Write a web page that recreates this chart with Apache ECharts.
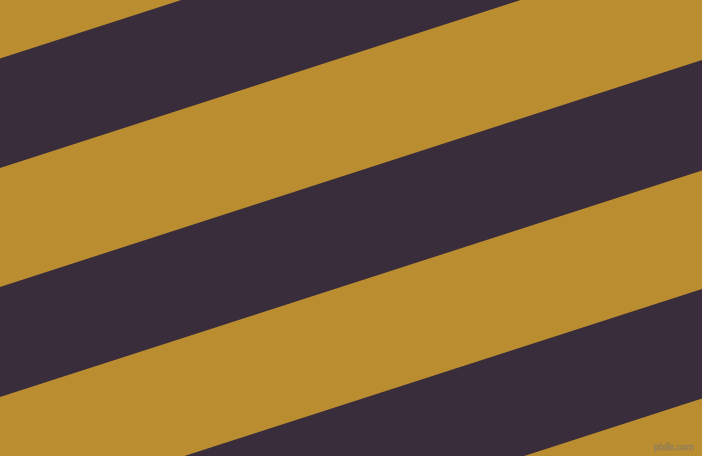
<!DOCTYPE html>
<html>
<head>
<meta charset="utf-8">
<style>
  html, body { margin: 0; padding: 0; background: #bb8d31; }
  #stripes { width: 702px; height: 456px; }
</style>
<script src="https://cdn.jsdelivr.net/npm/echarts@6/dist/echarts.min.js"></script>
</head>
<body>
<div id="stripes"></div>
<script>
// stripe edges where they meet the left (x=0) and right (x=702) borders, in pixels from the top
var leftTop = [58.5, 287, 515.5];
var leftBottom = [168, 397, 625.5];
var rightTop = [-168, 60, 289];
var rightBottom = [-58.5, 170.5, 398.5];
var gold = '#bb8d31';
var dark = '#392d3b';

var stripeData = leftTop.map(function (v, i) {
    return [v, leftBottom[i], rightTop[i], rightBottom[i]];
});

var myChart = echarts.init(document.getElementById('stripes'));
var option = {
    backgroundColor: gold,
    animation: false,
    grid: { left: 0, right: 0, top: 0, bottom: 0 },
    xAxis: { type: 'value', min: 0, max: 702, show: false },
    yAxis: { type: 'value', min: 0, max: 456, inverse: true, show: false },
    graphic: [{
        type: 'text',
        right: 8,
        bottom: 4,
        style: {
            text: 'pixlis.com',
            font: '9px "Liberation Sans"',
            fill: '#9a8866',
            stroke: '#7e6c4c',
            lineWidth: 0.4
        }
    }],
    series: [{
        type: 'custom',
        clip: true,
        data: stripeData,
        renderItem: function (params, api) {
            var pts = [
                api.coord([0, api.value(0)]),
                api.coord([702, api.value(2)]),
                api.coord([702, api.value(3)]),
                api.coord([0, api.value(1)])
            ];
            return {
                type: 'polygon',
                shape: { points: pts },
                style: { fill: dark }
            };
        }
    }]
};
myChart.setOption(option);
</script>
</body>
</html>
